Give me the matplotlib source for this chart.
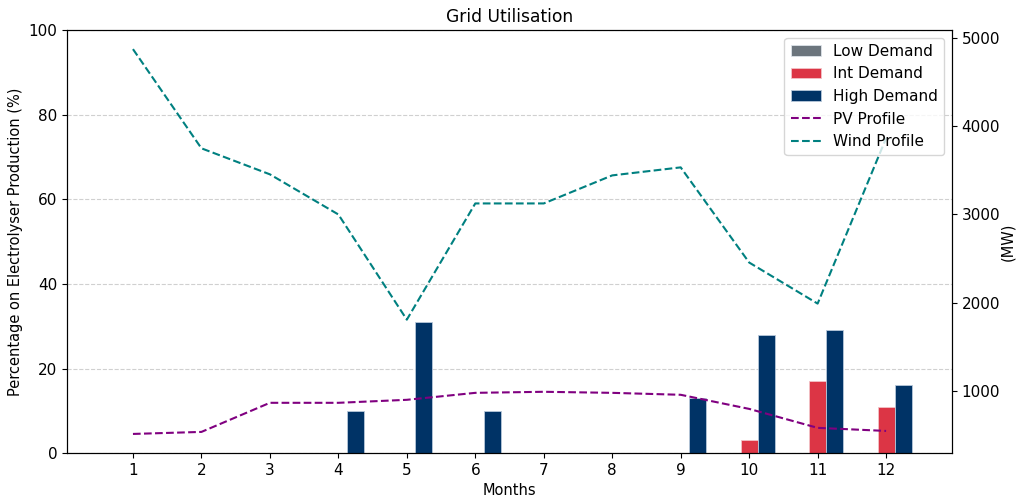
import numpy as np
import matplotlib
matplotlib.use('Agg')
import matplotlib.pyplot as plt

months = [1, 2, 3, 4, 5, 6, 7, 8, 9, 10, 11, 12]

low_demand = [0, 0, 0, 0, 0, 0, 0, 0, 0, 0, 0, 0]
int_demand = [0, 0, 0, 0, 0, 0, 0, 0, 0, 3, 17, 11]
high_demand = [0, 0, 0, 10, 31, 10, 0, 0, 13, 28, 29, 16]

pv_profile = [511, 534, 864, 864, 898, 977, 989, 977, 955, 795, 580, 545]
wind_profile = [4875, 3750, 3455, 3000, 1807, 3125, 3125, 3443, 3534, 2455, 1989, 3865]


def plot_grid(months, low, mid, high, pv, wind):
    x = np.array(months)
    width = 0.25

    fig, ax = plt.subplots(figsize=(10.16, 4.98), dpi=100)
    ax.bar(x - width, low, width, color='#6c757d', edgecolor='#dde3ea', linewidth=0.6, label='Low Demand')
    ax.bar(x, mid, width, color='#dc3545', edgecolor='#f2c2c7', linewidth=0.6, label='Int Demand')
    ax.bar(x + width, high, width, color='#003366', edgecolor='#b8c8da', linewidth=0.6, label='High Demand')

    ax.set_ylim(0, 100)
    ax.set_xticks(x)
    ax.set_xlabel('Months', fontsize=10.5)
    ax.set_ylabel('Percentage on Electrolyser Production (%)', fontsize=10.5)
    ax.set_title('Grid Utilisation', fontsize=12.3)
    ax.tick_params(labelsize=11)
    ax.yaxis.grid(True, linestyle='--', color='#d0d0d0', linewidth=0.8)
    ax.set_axisbelow(True)

    ax2 = ax.twinx()
    ax2.plot(x, pv, linestyle='--', color='purple', label='PV Profile')
    ax2.plot(x, wind, linestyle='--', color='teal', label='Wind Profile')
    ax2.set_ylabel('(MW)', fontsize=10.5, labelpad=0)
    ax2.tick_params(labelsize=11)

    h1, l1 = ax.get_legend_handles_labels()
    h2, l2 = ax2.get_legend_handles_labels()
    ax2.legend(h1 + h2, l1 + l2, loc='upper right', fontsize=11)

    fig.subplots_adjust(left=0.066, right=0.937, top=0.94, bottom=0.09)
    fig.savefig('out.png')


plot_grid(months, low_demand, int_demand, high_demand, pv_profile, wind_profile)
